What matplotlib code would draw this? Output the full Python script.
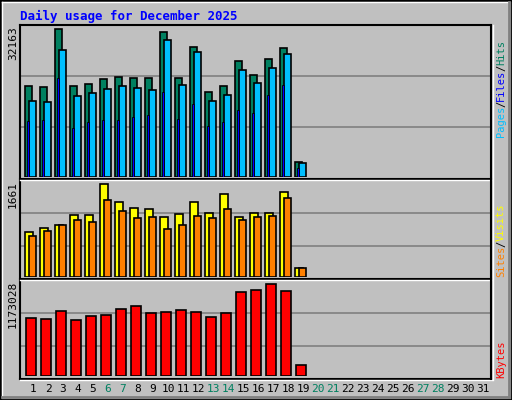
import matplotlib
matplotlib.use("Agg")
import matplotlib.pyplot as plt
from matplotlib.patches import Rectangle
from matplotlib.lines import Line2D

days = list(range(1, 32))
weekend_days = [6, 7, 13, 14, 20, 21, 27, 28]
hits = [19750, 19540, 32163, 19750, 20190, 21280, 21710, 21500, 21500, 31510,
        21500, 28250, 18450, 19750, 25200, 22150, 25630, 28030, 3200]
files = [16490, 16270, 27600, 17580, 18230, 19100, 19750, 19320, 18880, 29770,
         19970, 27160, 16490, 17790, 23240, 20410, 23670, 26720, 2980]
pages = [12130, 12350, 21500, 10610, 11910, 12350, 12350, 13000, 13440, 18450,
         12570, 15830, 11040, 11910, 14530, 13870, 17790, 19970, 1890]
visits = [797, 869, 923, 1103, 1103, 1661, 1337, 1229, 1211, 1067,
          1121, 1337, 1139, 1481, 1067, 1139, 1139, 1517, 150]
sites = [725, 815, 923, 1013, 977, 1373, 1175, 1049, 1067, 851,
         923, 1085, 1049, 1211, 1013, 1067, 1085, 1409, 150]
kbytes = [736000, 723000, 826000, 710000, 762000, 775000, 852000, 890000, 800000, 813000,
          838000, 813000, 749000, 800000, 1070000, 1096000, 1173028, 1083000, 132000]
max_hits, max_visits, max_kbytes = 32163, 1661, 1173028

W, H = 512, 400
BG = "#C0C0C0"
fig = plt.figure(figsize=(W / 100, H / 100), dpi=100, facecolor=BG)
plt.rcParams['font.family'] = ['DejaVu Sans Mono', 'DejaVu Sans']

def fx(px): return px / W
def fy(py): return 1 - py / H

# outer bevel
fig.add_artist(Rectangle((0, 0), 1, 1, transform=fig.transFigure, fill=False, ec="black", lw=2))
fig.add_artist(Line2D([fx(2), fx(509)], [fy(2), fy(2)], transform=fig.transFigure, color="white", lw=1))
fig.add_artist(Line2D([fx(2), fx(2)], [fy(2), fy(397)], transform=fig.transFigure, color="white", lw=1))
fig.add_artist(Line2D([fx(2), fx(509)], [fy(397), fy(397)], transform=fig.transFigure, color="#808080", lw=2))
fig.add_artist(Line2D([fx(509), fx(509)], [fy(2), fy(397)], transform=fig.transFigure, color="#808080", lw=2))

x0, x1 = 20, 491
xl0 = 1 + (x0 - 33) / 15
xl1 = 1 + (x1 - 33) / 15

def make_ax(ytop, ybot, vmax, hmax, grids):
    ax = fig.add_axes([fx(x0), fy(ybot), fx(x1) - fx(x0), fy(ytop) - fy(ybot)])
    ax.set_facecolor(BG)
    span = ybot - ytop
    ax.set_xlim(xl0, xl1)
    ax.set_ylim(0, vmax * span / hmax)
    for g in grids:
        ax.axhline(vmax * (ybot - g) / hmax, color="#808080", lw=1.2, zorder=0)
    for s in ax.spines.values():
        s.set_visible(False)
    ax.set_xticks([]); ax.set_yticks([])
    return ax

def bars(ax, vals, off0, off1, color, lw=1.2):
    xs = [d + (off0 + off1) / 2 / 15 for d in days[:len(vals)]]
    ax.bar(xs, vals, width=(off1 - off0) / 15, color=color, edgecolor="black", linewidth=lw, zorder=2)

ax1 = make_ax(25, 177, max_hits, 147.7, [76.3, 127.3])
bars(ax1, hits, -7.7, -0.7, "#008060")
bars(ax1, files, -3.7, 3.3, "#00BFFF")
bars(ax1, pages, -6, -3.7, "#0000FF", lw=0.6)

ax2 = make_ax(180.3, 276.7, max_visits, 92.3, [213.3, 246.3])
bars(ax2, visits, -7.7, 0.3, "#FFFF00")
bars(ax2, sites, -3.7, 3.3, "#FF8000")

ax3 = make_ax(280.3, 375.7, max_kbytes, 91.3, [313.3, 346])
bars(ax3, kbytes, -6.7, 3.3, "#FF0000")

# frame lines
def hline(y, xa, xb, c, lw=1.5):
    fig.add_artist(Line2D([fx(xa), fx(xb)], [fy(y), fy(y)], transform=fig.transFigure, color=c, lw=lw))
def vline(x, ya, yb, c, lw=1.5):
    fig.add_artist(Line2D([fx(x), fx(x)], [fy(ya), fy(yb)], transform=fig.transFigure, color=c, lw=lw))
hline(25, 20, 491, "black")
vline(20, 25, 379, "black")
for y in (178.5, 278.5):
    hline(y, 20, 491, "black")
    hline(y + 1.5, 20, 491, "white", 1)
hline(378.5, 20, 491, "black")
hline(380, 20, 492, "white", 1)
vline(491, 25, 379, "black")
vline(492.5, 25, 380, "white", 1)

# title
fig.text(fx(20), fy(16), "Daily usage for December 2025", color="#0000FF",
         fontsize=9, fontweight="bold", va="center", ha="left")

# max labels
fig.text(fx(13), fy(26), str(max_hits), rotation=90, fontsize=8, ha="center", va="top")
fig.text(fx(13), fy(181), str(max_visits), rotation=90, fontsize=8, ha="center", va="top")
fig.text(fx(13), fy(281), str(max_kbytes), rotation=90, fontsize=8, ha="center", va="top")

# day labels
for d in days:
    fig.text(fx(33 + (d - 1) * 15), fy(389), str(d), fontsize=8, ha="center", va="center",
             color="#008060" if d in weekend_days else "black")

# right legends
def vlegend(parts, ybottom):
    y = ybottom
    for txt, c in parts:
        t = fig.text(fx(501), fy(y), txt, rotation=90, fontsize=7.5, ha="center", va="bottom", color=c)
        fig.canvas.draw() if False else None
        y -= len(txt) * 6.0 + 0.0
vlegend([("Pages", "#00BFFF"), ("/", "black"), ("Files", "#0000FF"), ("/", "black"), ("Hits", "#008060")], 137)
vlegend([("Sites", "#FF8000"), ("/", "black"), ("Visits", "#FFFF00")], 277)
vlegend([("KBytes", "#FF0000")], 378)

fig.savefig("out.png", dpi=100, facecolor=BG)
